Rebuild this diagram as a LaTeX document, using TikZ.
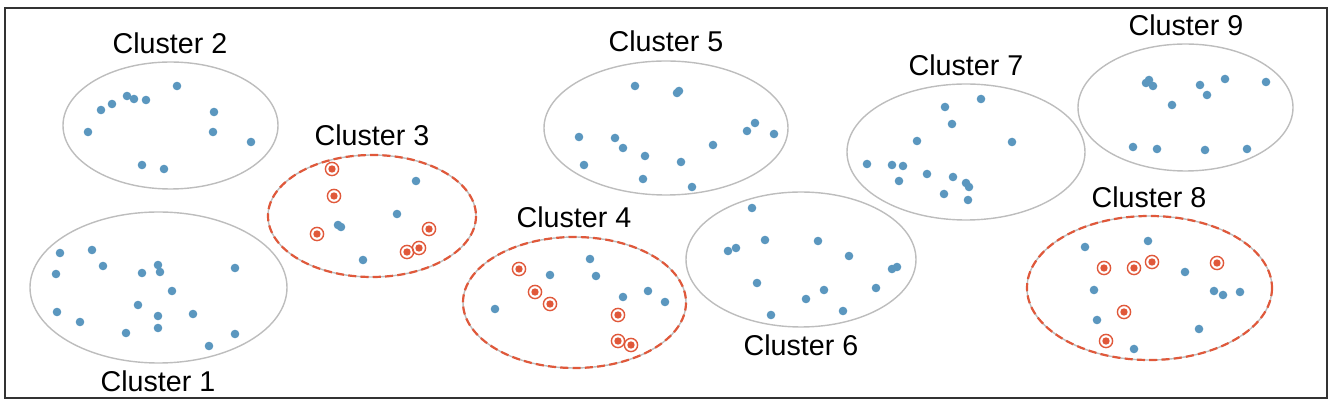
\documentclass[tikz,border=0pt]{standalone}
\usepackage{fontspec}
\setmainfont{Liberation Sans}
\definecolor{dotblue}{HTML}{5B97BF}
\definecolor{samplered}{HTML}{E0583A}
\definecolor{rimgray}{HTML}{BDBDBD}
\definecolor{framegray}{HTML}{333333}
\tikzset{
  rim/.style={rimgray,line width=.8pt},
  picked/.style={samplered,line width=1.25pt,dash pattern=on 4.6pt off 2.4pt},
  lab/.style={font=\fontsize{16.3}{19}\selectfont,inner sep=0pt},
}
\newcommand{\bdot}[1]{\fill[dotblue] (#1) circle (2.45pt);}
\newcommand{\rdot}[1]{\fill[samplered] (#1) circle (2.1pt);\draw[samplered,line width=.8pt] (#1) circle (3.75pt);}
\begin{document}
\begin{tikzpicture}[x=.02cm,y=-.02cm]
\useasboundingbox (0,0) rectangle (1340,408);
\draw[framegray,line width=.9pt] (5,8) rectangle (1327,398);
% cluster outlines
\foreach \cx/\cy/\rx/\ry in {158.5/287.5/128.5/75.5,170.5/125.5/107.5/63.5,372/216/104/61,574.5/302.5/111.5/65.5,666/128/122/67,801/259.5/115/67.5,966/152/119/68,1149.5/288/122.5/72,1185.5/107.5/107.5/63.5}
  {\draw[rim] (\cx,\cy) ellipse [x radius=\rx,y radius=\ry];}
\foreach \cx/\cy/\rx/\ry in {372/216/104/61,574.5/302.5/111.5/65.5,1149.5/288/122.5/72}
  {\draw[picked] (\cx,\cy) ellipse [x radius=\rx,y radius=\ry];}
% labels
\node[lab] (l1) at (158,381) {Cluster 1};
\node[lab] (l2) at (170,43) {Cluster 2};
\node[lab] (l3) at (372,135) {Cluster 3};
\node[lab] (l4) at (574,217) {Cluster 4};
\node[lab] (l5) at (666,41) {Cluster 5};
\node[lab] (l6) at (801,345) {Cluster 6};
\node[lab] (l7) at (966,65) {Cluster 7};
\node[lab] (l8) at (1149,197) {Cluster 8};
\node[lab] (l9) at (1186,25) {Cluster 9};
% unsampled points
\foreach \p in {{60,253},{92,250},{103,266},{56,274},{158,265},{160,272},{142,273},{235,268},{172,291},{138,305},{57,312},{80,322},{158,316},{193,314},{158,328},{126,333},{235,334},{209,346},
  {177,86},{127,96},{134,99},{146,100},{112,104},{101,110},{214,112},{88,132},{213,132},{251,142},{142,165},{164,169},
  {416,181},{338,225},{341,227},{397,214},{363,260},
  {590,259},{550,275},{596,276},{623,297},{648,291},{665,302},{495,309},
  {635,86},{679,91},{677,93},{579,137},{615,138},{623,148},{645,156},{584,165},{681,162},{713,145},{755,123},{747,131},{774,134},{643,179},{692,187},
  {752,208},{765,240},{818,241},{728,251},{736,248},{849,256},{892,269},{897,267},{757,283},{824,290},{806,299},{876,288},{843,311},{771,315},
  {981,99},{945,107},{952,124},{917,141},{1012,142},{867,164},{892,165},{903,166},{899,181},{927,174},{953,177},{966,183},{969,187},{944,194},{968,200},
  {1085,247},{1148,241},{1185,272},{1094,290},{1214,291},{1223,295},{1240,292},{1097,320},{1199,329},{1134,349},
  {1149,80},{1146,83},{1153,86},{1200,85},{1225,79},{1266,82},{1207,95},{1172,105},{1133,147},{1157,149},{1205,150},{1247,149}}
  {\bdot{\p}}
% sampled points
\foreach \p in {{332,169},{334,196},{317,234},{429,229},{419,248},{407,252},
  {519,269},{535,292},{550,304},{618,315},{618,341},{631,345},
  {1104,268},{1134,268},{1152,262},{1217,263},{1124,312},{1106,341}}
  {\rdot{\p}}
\end{tikzpicture}
\end{document}
